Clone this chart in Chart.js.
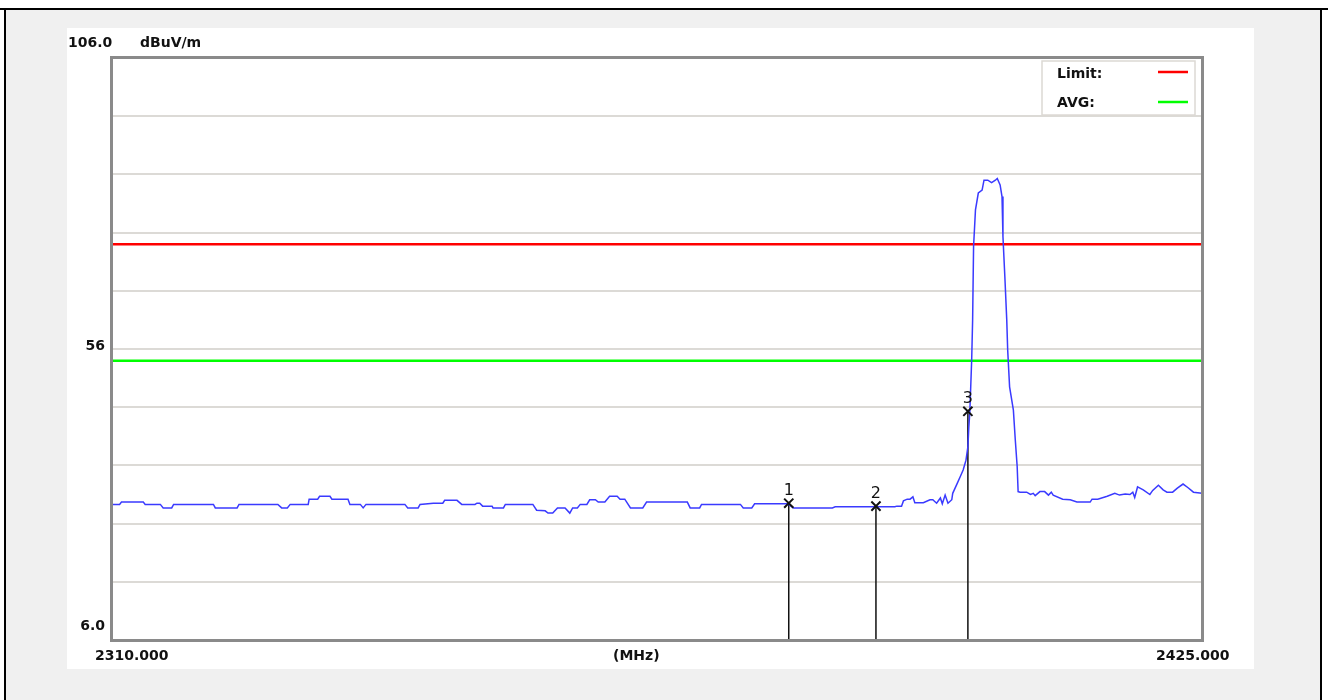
<!DOCTYPE html>
<html>
<head>
<meta charset="utf-8">
<script src="https://cdn.jsdelivr.net/npm/chart.js@4"></script>
<style>
  html, body { margin: 0; padding: 0; background: #fff; }
  canvas { display: block; }
</style>
</head>
<body>
<canvas id="chart" width="1328" height="700"></canvas>
<script>
// spectrum trace (MHz / dBuV/m)
const traceFreq = [
  2310.0, 2310.8, 2311.0, 2313.3, 2313.5, 2315.1, 2315.4, 2316.3, 2316.5, 2320.7,
  2320.9, 2323.2, 2323.4, 2327.5, 2327.9, 2328.5, 2328.8, 2330.7, 2330.8, 2331.7,
  2331.9, 2333.0, 2333.2, 2334.9, 2335.1, 2336.2, 2336.5, 2336.8, 2340.9, 2341.2,
  2342.3, 2342.5, 2343.9, 2344.9, 2345.1, 2346.4, 2346.9, 2348.3, 2348.5, 2348.8,
  2349.1, 2350.1, 2350.2, 2351.3, 2351.5, 2354.4, 2354.8, 2355.7, 2356.0, 2356.5,
  2357.0, 2357.8, 2358.3, 2358.6, 2359.1, 2359.4, 2360.1, 2360.4, 2361.0, 2361.3,
  2362.0, 2362.5, 2363.3, 2363.6, 2364.1, 2364.7, 2366.0, 2366.4, 2370.7, 2371.0,
  2372.0, 2372.2, 2376.3, 2376.6, 2377.5, 2377.8, 2381.3, 2381.9, 2386.0, 2386.3,
  2392.6, 2392.8, 2393.3, 2393.5, 2393.9, 2394.2, 2394.5, 2394.7, 2395.6, 2396.3,
  2396.6, 2397.0, 2397.4, 2397.6, 2397.9, 2398.2, 2398.6, 2398.7, 2399.2, 2399.5,
  2399.8, 2400.1, 2400.3, 2400.4, 2400.5, 2400.6, 2400.7, 2400.8, 2400.9, 2401.1,
  2401.4, 2401.8, 2402.0, 2402.4, 2402.8, 2403.2, 2403.4, 2403.7, 2403.9, 2404.0,
  2404.2, 2404.4, 2404.5, 2404.7, 2405.1, 2405.3, 2405.5, 2405.6, 2405.8, 2406.5,
  2406.9, 2407.2, 2407.4, 2407.9, 2408.4, 2408.8, 2409.1, 2409.3, 2410.3, 2411.1,
  2411.8, 2413.2, 2413.4, 2414.0, 2415.0, 2415.8, 2416.3, 2416.9, 2417.4, 2417.7,
  2417.9, 2418.2, 2418.8, 2419.5, 2419.8, 2420.4, 2420.9, 2421.3, 2421.9, 2422.4,
  2423.0, 2423.5, 2424.1, 2425.0
];
const traceLevel = [
  29.3, 29.3, 29.7, 29.7, 29.3, 29.3, 28.7, 28.7, 29.3, 29.3,
  28.7, 28.7, 29.3, 29.3, 28.7, 28.7, 29.3, 29.3, 30.2, 30.2,
  30.7, 30.7, 30.2, 30.2, 29.3, 29.3, 28.7, 29.3, 29.3, 28.7,
  28.7, 29.3, 29.5, 29.5, 30.0, 30.0, 29.3, 29.3, 29.5, 29.5,
  29.0, 29.0, 28.7, 28.7, 29.3, 29.3, 28.3, 28.2, 27.8, 27.8,
  28.7, 28.7, 27.8, 28.7, 28.7, 29.3, 29.3, 30.1, 30.1, 29.7,
  29.7, 30.7, 30.7, 30.2, 30.2, 28.7, 28.7, 29.7, 29.7, 28.7,
  28.7, 29.3, 29.3, 28.7, 28.7, 29.4, 29.4, 28.7, 28.7, 28.9,
  28.9, 29.0, 29.0, 29.9, 30.2, 30.2, 30.6, 29.6, 29.6, 30.1,
  30.1, 29.5, 30.4, 29.4, 30.9, 29.5, 30.1, 31.2, 33.0, 34.1,
  35.2, 36.9, 39.2, 42.6, 45.0, 49.5, 54.1, 61.0, 73.6, 79.9,
  82.8, 83.3, 85.0, 85.0, 84.6, 85.0, 85.3, 84.2, 82.2, 75.3,
  68.4, 61.0, 55.8, 49.5, 45.5, 40.4, 35.8, 31.5, 31.4, 31.4,
  31.0, 31.2, 30.8, 31.5, 31.5, 30.9, 31.4, 30.9, 30.2, 30.1,
  29.7, 29.7, 30.2, 30.2, 30.7, 31.2, 30.9, 31.1, 31.0, 31.4,
  30.5, 32.3, 31.8, 31.0, 31.7, 32.6, 31.8, 31.4, 31.4, 32.1,
  32.8, 32.2, 31.4, 31.2
];

const limitLevel = 74;
const avgLevel = 54;

const markerNames = ["1", "2", "3"];
const markerFreq = [2381.4, 2390.6, 2400.3];
const markerLevel = [29.5, 29.0, 45.3];

const xMin = 2310, xMax = 2425;
const yMin = 6, yMax = 106;
const yTickLabels = ["106.0", "56", "6.0"];
const xTickLabels = ["2310.000", "(MHz)", "2425.000"];
const yUnit = "dBuV/m";
const legendNames = ["Limit:", "AVG:"];

const FONT_B = "bold 14px 'DejaVu Sans'";

// background: grey page, black border, white panel
const backdrop = {
  id: "backdrop",
  beforeDraw(c) {
    const ctx = c.ctx;
    ctx.save();
    ctx.fillStyle = "#fff";
    ctx.fillRect(0, 0, c.width, c.height);
    ctx.fillStyle = "#f0f0f0";
    ctx.fillRect(6, 10, 1314, 690);
    ctx.fillStyle = "#000";
    ctx.fillRect(0, 8, 1328, 2);
    ctx.fillRect(4, 8, 2, 692);
    ctx.fillRect(1320, 8, 2, 692);
    ctx.fillStyle = "#fff";
    ctx.fillRect(67, 28, 1187, 641);
    ctx.restore();
  }
};

// frame, texts, legend, marker labels
const overlay = {
  id: "overlay",
  afterDatasetsDraw(c) {
    const ctx = c.ctx;
    const a = c.chartArea;
    const ys = c.scales.y, xs = c.scales.x;
    ctx.save();
    ctx.strokeStyle = "#8a8a8a";
    ctx.lineWidth = 3;
    ctx.strokeRect(a.left - 0.5, a.top - 0.5, a.right - a.left + 1, a.bottom - a.top + 1);

    ctx.fillStyle = "#111";
    ctx.font = FONT_B;
    ctx.textBaseline = "alphabetic";
    ctx.textAlign = "left";
    ctx.fillText(yTickLabels[0], 68, 47);
    ctx.fillText(yUnit, 140, 47);
    ctx.textAlign = "right";
    ctx.fillText(yTickLabels[1], 105, ys.getPixelForValue(56) + 1);
    ctx.fillText(yTickLabels[2], 105, ys.getPixelForValue(6) - 10);
    ctx.textAlign = "left";
    ctx.fillText(xTickLabels[0], 95, 660);
    ctx.fillText(xTickLabels[1], 613, 660);
    ctx.fillText(xTickLabels[2], 1156, 660);

    // legend box
    ctx.fillStyle = "#fff";
    ctx.fillRect(1042, 61, 153, 54);
    ctx.strokeStyle = "#dcd9d4";
    ctx.lineWidth = 1.5;
    ctx.strokeRect(1042, 61, 153, 54);
    ctx.fillStyle = "#111";
    ctx.font = FONT_B;
    ctx.fillText(legendNames[0], 1057, 78);
    ctx.fillText(legendNames[1], 1057, 107);
    ctx.lineWidth = 2.5;
    ctx.strokeStyle = "#ff0000";
    ctx.beginPath(); ctx.moveTo(1158, 72); ctx.lineTo(1188, 72); ctx.stroke();
    ctx.strokeStyle = "#00ff00";
    ctx.beginPath(); ctx.moveTo(1158, 102); ctx.lineTo(1188, 102); ctx.stroke();

    // marker numbers
    ctx.font = "16px 'DejaVu Sans'";
    ctx.textAlign = "center";
    ctx.fillStyle = "#111";
    markerNames.forEach((n, i) => {
      ctx.fillText(n, xs.getPixelForValue(markerFreq[i]), ys.getPixelForValue(markerLevel[i]) - 8);
    });
    ctx.restore();
  }
};

const markerLines = markerFreq.map((f, i) => ({
  data: [{ x: f, y: markerLevel[i] }, { x: f, y: yMin }],
  borderColor: "#111",
  borderWidth: 1.5,
  pointRadius: 0,
  order: 3
}));

new Chart(document.getElementById("chart"), {
  type: "line",
  data: {
    datasets: [
      {
        data: [{ x: xMin, y: limitLevel }, { x: xMax, y: limitLevel }],
        borderColor: "#ff0000", borderWidth: 2.5, pointRadius: 0, order: 5
      },
      {
        data: [{ x: xMin, y: avgLevel }, { x: xMax, y: avgLevel }],
        borderColor: "#00ff00", borderWidth: 2.5, pointRadius: 0, order: 5
      },
      ...markerLines,
      {
        data: traceFreq.map((f, i) => ({ x: f, y: traceLevel[i] })),
        borderColor: "#3a3aff", borderWidth: 1.5, pointRadius: 0, tension: 0, order: 2
      },
      {
        data: markerFreq.map((f, i) => ({ x: f, y: markerLevel[i] })),
        showLine: false,
        pointStyle: "crossRot", pointRadius: 6.5,
        borderColor: "#111", borderWidth: 2, order: 1
      }
    ]
  },
  options: {
    responsive: false,
    animation: false,
    devicePixelRatio: 1,
    layout: { padding: { left: 112, top: 58, right: 126, bottom: 60 } },
    plugins: { legend: { display: false }, tooltip: { enabled: false } },
    scales: {
      x: {
        type: "linear", min: xMin, max: xMax,
        ticks: { display: false },
        grid: { display: false, drawTicks: false },
        border: { display: false },
        afterFit(s) { s.height = 0; }
      },
      y: {
        type: "linear", min: yMin, max: yMax,
        ticks: { display: false, stepSize: 10 },
        grid: { color: "#dcdad6", lineWidth: 2, drawTicks: false },
        border: { display: false },
        afterFit(s) { s.width = 0; }
      }
    }
  },
  plugins: [backdrop, overlay]
});
</script>
</body>
</html>
